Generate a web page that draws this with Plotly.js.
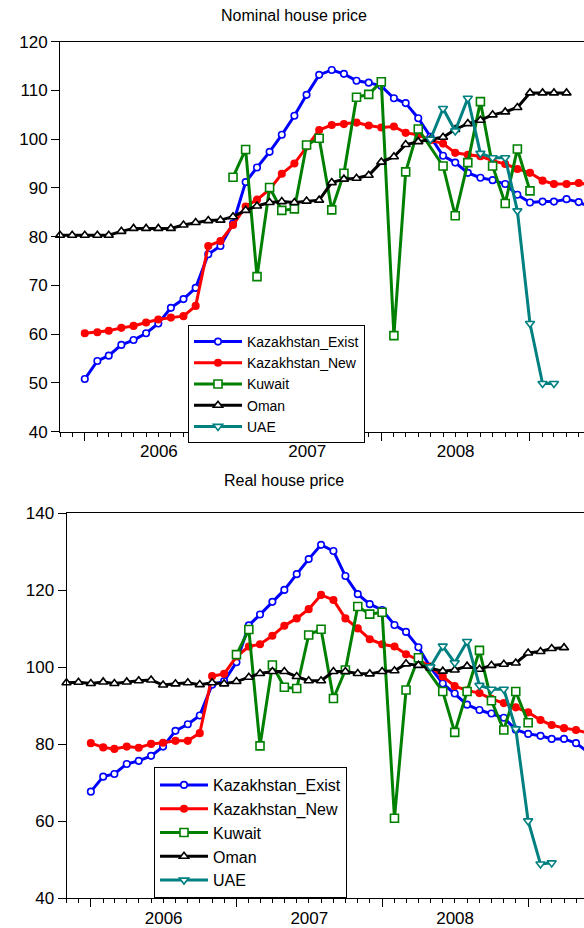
<!DOCTYPE html>
<html>
<head>
<meta charset="utf-8">
<script src="https://cdn.plot.ly/plotly-3.0.1.min.js"></script>
<style>
html, body { margin: 0; padding: 0; overflow: hidden; background: #fff; }
#chart { width: 584px; height: 928px; }
</style>
</head>
<body>
<div id="chart"></div>
<script>
var months = [
  "2005-11-01","2005-12-01",
  "2006-01-01","2006-02-01","2006-03-01","2006-04-01","2006-05-01","2006-06-01",
  "2006-07-01","2006-08-01","2006-09-01","2006-10-01","2006-11-01","2006-12-01",
  "2007-01-01","2007-02-01","2007-03-01","2007-04-01","2007-05-01","2007-06-01",
  "2007-07-01","2007-08-01","2007-09-01","2007-10-01","2007-11-01","2007-12-01",
  "2008-01-01","2008-02-01","2008-03-01","2008-04-01","2008-05-01","2008-06-01",
  "2008-07-01","2008-08-01","2008-09-01","2008-10-01","2008-11-01","2008-12-01",
  "2009-01-01","2009-02-01","2009-03-01","2009-04-01","2009-05-01","2009-06-01"
];

var seriesNames = ["Kazakhstan_Exist", "Kazakhstan_New", "Kuwait", "Oman", "UAE"];
var panelTitles = ["Nominal house price", "Real house price"];

// Nominal house price
var nomKazExist = [null,null, 50.8,54.5,55.6,57.8,58.8,60.2,62.2,65.4,67.2,69.5,76.4,78.1,
  82.7,91.2,94.2,97.4,100.9,104.8,109.1,113.2,114.2,113.4,112.0,111.6,
  110.9,108.4,107.4,104.3,100.5,96.6,95.2,93.1,92.1,91.6,90.8,88.6,
  87.0,87.2,87.2,87.7,87.1,86.0];
var nomKazNew = [null,null, 60.2,60.4,60.7,61.3,61.7,62.4,63.0,63.4,63.7,65.8,78.1,79.1,
  82.4,86.2,87.6,89.7,92.9,95.0,98.5,101.9,102.9,103.1,103.4,102.8,
  102.4,102.6,101.3,100.9,99.8,99.1,97.2,96.8,96.5,95.6,94.9,93.9,
  93.1,91.5,90.8,90.8,91.0,90.6];
var nomKuwait = [null,null, null,null,null,null,null,null,null,null,null,null,null,null,
  92.2,97.9,71.8,90.1,85.4,85.7,98.8,100.2,85.5,93.0,108.6,109.2,
  111.8,59.7,93.3,102.1,null,94.5,84.3,95.2,107.7,94.5,86.8,98.0,
  89.4,null,null,null,null,null];
var nomOman = [80.3,80.3, 80.3,80.3,80.3,81.1,81.7,81.7,81.7,81.7,82.4,82.9,83.3,83.4,
  84.1,85.4,86.3,87.0,87.2,87.0,87.3,87.5,91.1,91.8,92.0,92.6,
  95.3,96.4,98.9,99.5,100.0,100.4,102.0,103.2,103.9,105.0,105.6,106.5,
  109.5,109.5,109.5,109.5,null,null];
var nomUAE = [null,null, null,null,null,null,null,null,null,null,null,null,null,null,
  null,null,null,null,null,null,null,null,null,null,null,null,
  null,null,null,null,100.0,106.3,101.7,108.4,97.1,96.2,96.2,85.3,
  62.2,49.9,49.9,null,null,null];

// Real house price
var realKazExist = [null,null, 67.7,71.6,72.3,74.9,75.7,77.0,79.4,83.5,85.2,87.5,95.5,96.4,
  101.3,110.9,113.7,117.0,120.1,124.2,128.1,131.8,130.2,123.7,119.0,116.4,
  114.9,111.0,109.2,105.2,100.0,95.8,93.2,90.3,88.9,88.0,86.9,83.8,
  82.7,82.2,81.4,81.4,80.3,77.9];
var realKazNew = [null,null, 80.3,79.2,78.8,79.4,79.1,80.1,80.4,80.9,80.9,82.9,97.7,98.3,
  102.8,105.4,106.0,108.2,110.8,112.7,115.1,118.8,117.5,112.7,110.1,107.3,
  106.0,105.4,103.4,101.9,100.2,97.6,95.1,94.0,93.3,91.8,90.7,89.6,
  88.3,86.3,85.0,84.2,83.7,82.9];
var realKuwait = [null,null, null,null,null,null,null,null,null,null,null,null,null,null,
  103.3,109.8,79.6,100.6,94.8,94.5,108.4,109.9,91.9,99.3,115.8,113.8,
  114.3,60.8,94.1,102.5,null,93.7,83.1,93.7,104.4,91.3,83.7,93.7,
  85.6,null,null,null,null,null];
var realOman = [96.0,96.1, 95.8,96.2,95.8,96.2,96.5,96.7,95.4,95.7,96.0,95.5,96.0,95.7,
  96.3,97.4,98.4,98.9,98.9,97.6,96.5,96.5,98.9,98.9,98.4,98.3,
  98.9,99.1,100.9,100.5,99.8,99.0,99.3,100.3,99.5,100.5,100.8,101.1,
  103.7,104.1,104.9,105.1,null,null];
var realUAE = [null,null, null,null,null,null,null,null,null,null,null,null,null,null,
  null,null,null,null,null,null,null,null,null,null,null,null,
  null,null,null,null,100.1,105.5,101.2,106.7,95.3,94.3,94.3,84.0,
  60.1,48.9,49.2,null,null,null];

var colors = ["#0000FF", "#FF0000", "#008000", "#000000", "#008080"];
var symbols = ["circle", "circle", "square", "triangle-up", "triangle-down"];
var fills = ["#FFFFFF", "#FF0000", "#FFFFFF", "#FFFFFF", "#FFFFFF"];
var msizes = [6.5, 6.5, 8, 8, 8];

var nominal = [nomKazExist, nomKazNew, nomKuwait, nomOman, nomUAE];
var real = [realKazExist, realKazNew, realKuwait, realOman, realUAE];

var traces = [];
function addPanel(data, xa, ya, leg) {
  for (var i = 0; i < data.length; i++) {
    traces.push({
      type: "scatter", mode: "lines+markers",
      x: months, y: data[i], name: seriesNames[i],
      xaxis: xa, yaxis: ya, legend: leg,
      connectgaps: true,
      line: { color: colors[i], width: 3 },
      marker: { symbol: symbols[i], size: msizes[i], color: fills[i],
                line: { color: colors[i], width: 1.6 } },
      cliponaxis: false
    });
  }
}
addPanel(nominal, "x", "y", "legend");
addPanel(real, "x2", "y2", "legend2");

var fontFam = "Liberation Sans, Arial, sans-serif";
function xAxis(domain, range, anchor) {
  return {
    type: "date", domain: domain, range: range, anchor: anchor,
    showgrid: false, zeroline: false,
    showline: true, linecolor: "#000", linewidth: 1, mirror: true,
    ticks: "outside", ticklen: 8, tickwidth: 1, tickcolor: "#000",
    tick0: "2006-01-01", dtick: "M12", ticklabelmode: "period", tickformat: "%Y",
    ticklabelstandoff: -4,
    tickfont: { family: fontFam, size: 17, color: "#000" },
    minor: { ticks: "outside", dtick: "M1", ticklen: 4, tickwidth: 1, tickcolor: "#000", showgrid: false }
  };
}
function yAxis(domain, range, dtick, anchor) {
  return {
    domain: domain, range: range, dtick: dtick, anchor: anchor,
    showgrid: false, zeroline: false,
    showline: true, linecolor: "#000", linewidth: 1, mirror: false,
    ticks: "outside", ticklen: 8, tickwidth: 1, tickcolor: "#000",
    tickfont: { family: fontFam, size: 17, color: "#000" }
  };
}

var layout = {
  width: 584, height: 928,
  margin: { l: 0, r: 0, t: 0, b: 0 },
  paper_bgcolor: "#fff", plot_bgcolor: "#fff",
  showlegend: true,
  font: { family: fontFam, color: "#000" },
  title: { text: panelTitles[0], x: 294 / 584, xanchor: "center", y: 1 - 15 / 928, yanchor: "middle",
           font: { family: fontFam, size: 16, color: "#000" } },
  xaxis: xAxis([60 / 584, 1], ["2005-11-01", "2009-05-14"], "y"),
  yaxis: yAxis([1 - 431.7 / 928, 1 - 41.7 / 928], [40, 120], 10, "x"),
  xaxis2: xAxis([66.5 / 584, 1], ["2005-11-01", "2009-05-21"], "y2"),
  yaxis2: yAxis([1 - 898.3 / 928, 1 - 513.3 / 928], [40, 140], 20, "x2"),
  legend: {
    x: 188 / 584, y: 1 - 325 / 928, xanchor: "left", yanchor: "top",
    bgcolor: "#fff", bordercolor: "#000", borderwidth: 1,
    font: { family: fontFam, size: 14, color: "#000" },
    itemwidth: 48, tracegroupgap: 0
  },
  legend2: {
    x: 154 / 584, y: 1 - 767 / 928, xanchor: "left", yanchor: "top",
    bgcolor: "#fff", bordercolor: "#000", borderwidth: 1,
    font: { family: fontFam, size: 16, color: "#000" },
    itemwidth: 48, tracegroupgap: 0
  },
  annotations: [{
    text: panelTitles[1], xref: "paper", yref: "paper",
    x: 284 / 584, y: 1 - 481 / 928, xanchor: "center", yanchor: "middle",
    showarrow: false, font: { family: fontFam, size: 16, color: "#000" }
  }]
};

Plotly.newPlot("chart", traces, layout, { displayModeBar: false, staticPlot: true });
</script>
</body>
</html>
